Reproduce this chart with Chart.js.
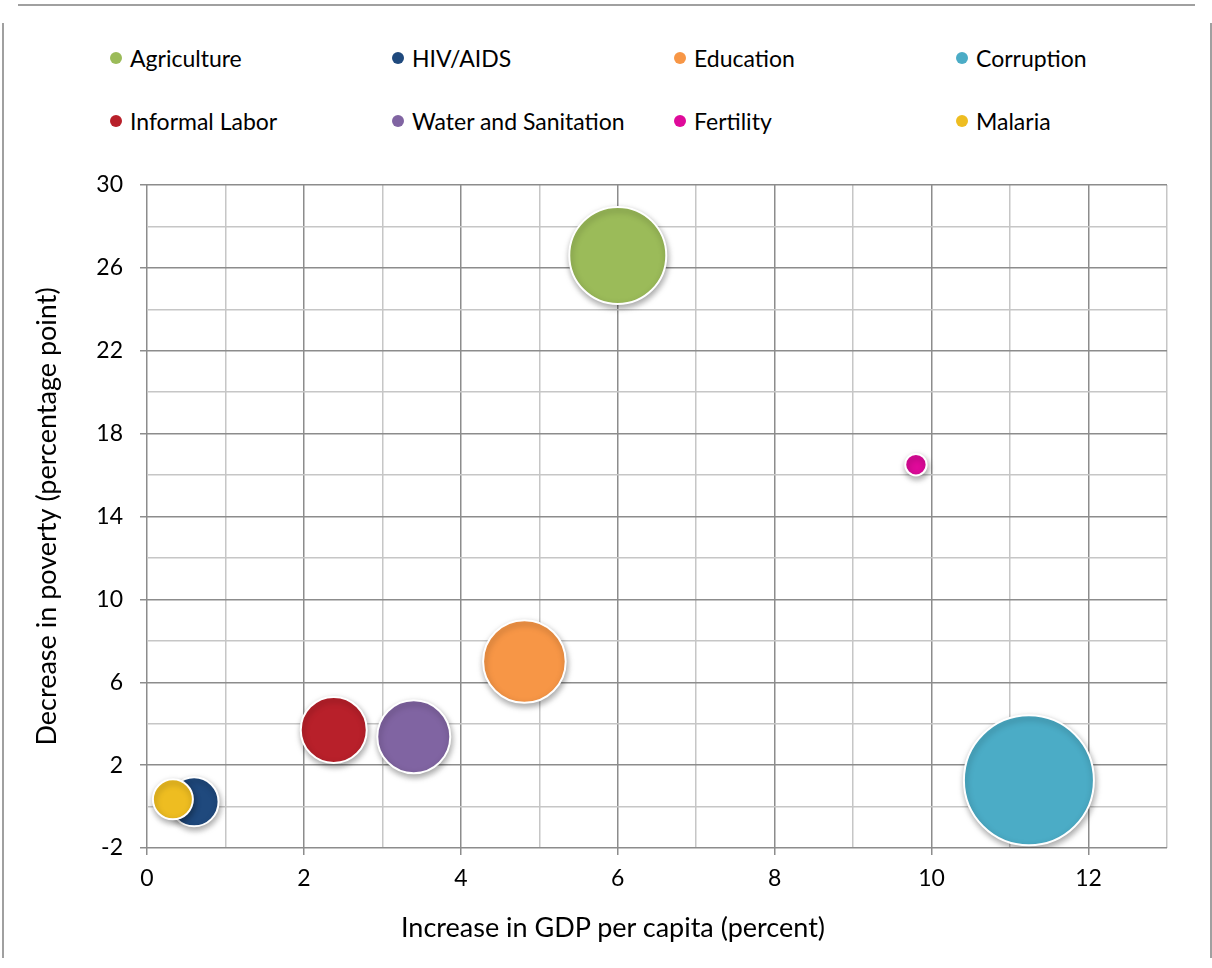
<!DOCTYPE html>
<html lang="en">
<head>
    <meta charset="UTF-8">
    <title>GDP and poverty bubble chart</title>
    <script src="https://cdn.jsdelivr.net/npm/chart.js"></script>
    <style>
        body {
            margin: 0;
            background-color: white;
            font-family: Lato, 'Noto Sans', sans-serif;
        }
        .page {
            position: relative;
            width: 1212px;
            height: 968px;
            overflow: hidden;
        }
        .frame-top {
            position: absolute;
            left: 18px;
            top: 4px;
            width: 1177px;
            height: 2px;
            background-color: #a0a0a0;
        }
        .frame-left, .frame-right {
            position: absolute;
            top: 23px;
            width: 2px;
            height: 935px;
            background-color: #a0a0a0;
        }
        .frame-left { left: 2px; }
        .frame-right { left: 1210px; }
        .legend {
            position: absolute;
            left: 110px;
            top: 39px;
            display: grid;
            grid-template-columns: repeat(4, 282px);
            grid-auto-rows: 63px;
            font-size: 23px;
            color: #000;
        }
        .legend-item {
            display: flex;
            align-items: center;
            height: 38px;
        }
        .legend-dot {
            width: 12px;
            height: 12px;
            border-radius: 50%;
            margin-right: 8px;
            flex: none;
        }
        .x-title {
            position: absolute;
            left: 0;
            top: 911px;
            width: 1226px;
            text-align: center;
            font-size: 27px;
            line-height: 32px;
            color: #000;
        }
        #bubbleChart {
            position: absolute;
            left: 0;
            top: 150px;
        }
    </style>
</head>
<body>
    <div class="page">
        <div class="frame-top"></div>
        <div class="frame-left"></div>
        <div class="frame-right"></div>
        <div class="legend" id="legend"></div>
        <canvas id="bubbleChart" width="1212" height="818"></canvas>
        <div class="x-title" id="xTitle"></div>
    </div>

    <script>
        const categories = ['Agriculture', 'HIV/AIDS', 'Education', 'Corruption',
                            'Informal Labor', 'Water and Sanitation', 'Fertility', 'Malaria'];
        const gdpIncrease = [6.0, 0.6, 4.81, 11.24, 2.38, 3.4, 9.8, 0.33];
        const povertyDecrease = [26.6, 0.23, 7.0, 1.27, 3.7, 3.37, 16.5, 0.35];
        const bubbleSize = [48.5, 24.5, 41.3, 65, 33, 36.5, 10.7, 20];
        const colors = ['#9bbb59', '#1f497d', '#f79646', '#4bacc6',
                        '#b8202a', '#8064a2', '#df0a9a', '#eebd21'];

        const xTitle = 'Increase in GDP per capita (percent)';
        const yTitle = 'Decrease in poverty (percentage point)';

        const majorGrid = '#8c8c8c';
        const minorGrid = '#c6c6c6';
        const tickFont = { family: 'Lato', size: 23 };
        const titleFont = { family: 'Lato', size: 27 };

        // legend as html, four columns
        const legendEl = document.getElementById('legend');
        categories.forEach((name, i) => {
            const item = document.createElement('div');
            item.className = 'legend-item';
            item.innerHTML = `<span class="legend-dot" style="background:${colors[i]}"></span><span>${name}</span>`;
            legendEl.appendChild(item);
        });
        // x title sits centred on the whole figure, not on the plot area
        document.getElementById('xTitle').textContent = xTitle;

        // soft drop shadow under the bubbles
        const shadowPlugin = {
            id: 'bubbleShadow',
            beforeDatasetDraw(chart) {
                const ctx = chart.ctx;
                ctx.save();
                ctx.shadowColor = 'rgba(0,0,0,0.35)';
                ctx.shadowBlur = 6;
                ctx.shadowOffsetX = 1;
                ctx.shadowOffsetY = 3;
            },
            afterDatasetDraw(chart) {
                chart.ctx.restore();
            }
        };

        const isMajorX = v => v % 2 === 0;
        const isMajorY = v => (v + 2) % 4 === 0;

        new Chart(document.getElementById('bubbleChart'), {
            type: 'bubble',
            data: {
                datasets: categories.map((name, i) => ({
                    label: name,
                    data: [{ x: gdpIncrease[i], y: povertyDecrease[i], r: bubbleSize[i] }],
                    backgroundColor: colors[i],
                    hoverBackgroundColor: colors[i],
                    borderColor: '#ffffff',
                    hoverBorderColor: '#ffffff',
                    borderWidth: 2,
                    order: categories.length - i
                }))
            },
            options: {
                responsive: false,
                animation: false,
                layout: {
                    autoPadding: false,
                    padding: { top: 35, right: 45, bottom: 0, left: 0 }
                },
                plugins: {
                    legend: { display: false },
                    tooltip: { enabled: false }
                },
                scales: {
                    x: {
                        type: 'linear',
                        min: 0,
                        max: 13,
                        border: { display: false },
                        grid: {
                            color: c => isMajorX(c.tick.value) ? majorGrid : minorGrid,
                            tickColor: c => isMajorX(c.tick.value) ? majorGrid : 'rgba(0,0,0,0)',
                            lineWidth: 1.5,
                            tickLength: 7
                        },
                        ticks: {
                            stepSize: 1,
                            autoSkip: false,
                            maxRotation: 0,
                            padding: 10,
                            color: '#000',
                            font: tickFont,
                            callback: v => isMajorX(v) ? v : ''
                        },
                        afterFit: scale => { scale.height = 120; }
                    },
                    y: {
                        type: 'linear',
                        min: -2,
                        max: 30,
                        border: { display: false },
                        grid: {
                            color: c => isMajorY(c.tick.value) ? majorGrid : minorGrid,
                            tickColor: c => isMajorY(c.tick.value) ? majorGrid : 'rgba(0,0,0,0)',
                            lineWidth: 1.5,
                            tickLength: 7
                        },
                        ticks: {
                            stepSize: 2,
                            autoSkip: false,
                            padding: 17,
                            color: '#000',
                            font: tickFont,
                            callback: v => isMajorY(v) ? v : ''
                        },
                        title: {
                            display: true,
                            text: yTitle,
                            color: '#000',
                            font: titleFont,
                            padding: { top: 31, bottom: 0 }
                        },
                        afterFit: scale => { scale.width = 147; }
                    }
                }
            },
            plugins: [shadowPlugin]
        });
    </script>
</body>
</html>
